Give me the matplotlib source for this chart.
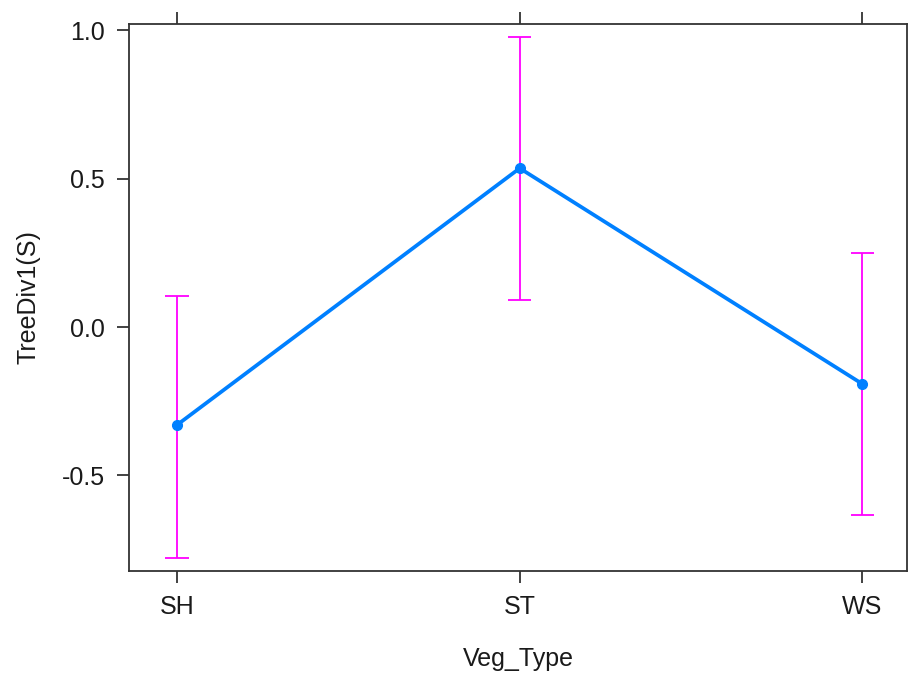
import matplotlib
matplotlib.use("Agg")
import matplotlib.pyplot as plt

categories = ["SH", "ST", "WS"]
fit = [-0.330, 0.535, -0.192]
lower = [-0.779, 0.091, -0.635]
upper = [0.104, 0.977, 0.249]

plt.rcParams['font.family'] = ['Liberation Sans', 'DejaVu Sans']

fig = plt.figure(figsize=(9.09, 6.73), dpi=100)
ax = fig.add_axes([129/909, 1-571/673, (907-129)/909, (571-24)/673])

x = list(range(len(categories)))
cw = 0.034
ax.vlines(x, lower, upper, color="#ff00ff", lw=1.3, zorder=2)
ax.hlines(lower, [i-cw for i in x], [i+cw for i in x], color="#ff00ff", lw=1.3, zorder=2)
ax.hlines(upper, [i-cw for i in x], [i+cw for i in x], color="#ff00ff", lw=1.3, zorder=2)
ax.plot(x, fit, color="#0080ff", lw=2.7, marker="o", ms=7, mfc="#0080ff", zorder=3)

ax.set_xlim(-0.14, 2.13)
ax.set_ylim(-0.822, 1.021)
ax.set_xticks(x)
ax.set_xticklabels(categories)
ax.set_yticks([-0.5, 0.0, 0.5, 1.0])
ax.set_yticklabels(["-0.5", "0.0", "0.5", "1.0"])
ax.tick_params(axis="x", which="both", top=True, bottom=True, labeltop=False,
               direction="out", length=8.6, width=1.3, colors="#333333", labelsize=18, pad=9)
ax.tick_params(axis="x", labelcolor="#1a1a1a")
ax.tick_params(axis="y", direction="out", length=8.6, width=1.3, colors="#333333",
               labelsize=18, pad=9, labelcolor="#1a1a1a")
for s in ax.spines.values():
    s.set_linewidth(1.3)
    s.set_color("#333333")

ax.set_xlabel("Veg_Type", fontsize=18, color="#1a1a1a", labelpad=20)
ax.set_ylabel("TreeDiv1(S)", fontsize=18, color="#1a1a1a", labelpad=15)

fig.savefig("out.png", dpi=100)
